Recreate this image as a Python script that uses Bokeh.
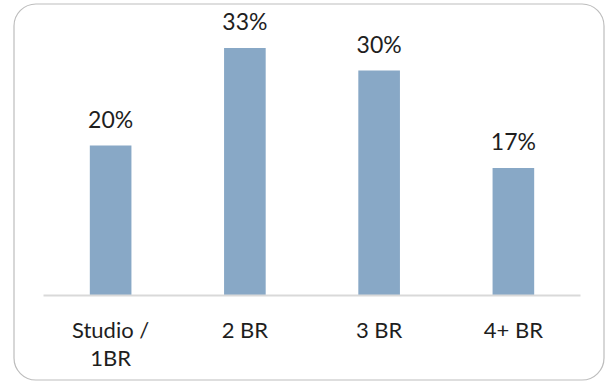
from bokeh.plotting import figure
from bokeh.models import (ColumnDataSource, Range1d, LinearAxis, FixedTicker,
                          LabelSet)
from bokeh.core.properties import value
from bokeh.embed import file_html
from bokeh.resources import INLINE

# Share of units by bedroom count
categories = ["Studio /\n1BR", "2 BR", "3 BR", "4+ BR"]
shares = [20, 33, 30, 17]
share_labels = [f"{v}%" for v in shares]

W, H = 606, 383
FONT = "Lato"
TEXT = "#1e1e1e"
BAR = "#88A8C6"

# Pixel geometry of the plotting area
axis_left, axis_right, axis_y = 43, 580, 295
cat_px = (axis_right - axis_left) / len(categories)
px_per_pct = 7.5

x0 = -axis_left / cat_px
x_range = Range1d(x0, x0 + W / cat_px)
y_range = Range1d(-(H - axis_y) / px_per_pct, axis_y / px_per_pct)

def px_x(px):
    return x0 + px / cat_px

def px_y(py):
    return (axis_y - py) / px_per_pct

centers = [i + 0.5 for i in range(len(categories))]
src = ColumnDataSource(dict(x=centers, top=shares, label=share_labels))

p = figure(width=W, height=H, x_range=x_range, y_range=y_range,
           x_axis_type=None, y_axis_type=None, toolbar_location=None,
           output_backend="svg", min_border=0)
p.outline_line_color = None
p.grid.visible = False
p.background_fill_color = "white"
p.border_fill_color = "white"

# Rounded frame around the chart
p.quad(left=[px_x(13.5)], right=[px_x(603.5)], top=[px_y(3.5)],
       bottom=[px_y(379.5)], fill_color=None, line_color="#bdbdbd",
       line_width=1.2, border_radius=22)

p.vbar(x="x", top="top", width=0.31, source=src, fill_color=BAR,
       line_color=None)

p.add_layout(LabelSet(x="x", y="top", text="label", source=src,
                      y_offset=18, text_align="center",
                      text_baseline="alphabetic", text_font=value(FONT),
                      text_font_size="23px", text_color=TEXT))

xaxis = LinearAxis(fixed_location=0, bounds=(0, len(categories)),
                   ticker=FixedTicker(ticks=centers),
                   major_label_overrides={c: n for c, n in zip(centers, categories)})
xaxis.axis_line_color = "#d9d9d9"
xaxis.axis_line_width = 2
xaxis.major_tick_line_color = None
xaxis.minor_tick_line_color = None
xaxis.major_label_standoff = 14
xaxis.major_label_text_font = FONT
xaxis.major_label_text_font_size = "22px"
xaxis.major_label_text_color = TEXT
xaxis.major_label_text_line_height = 1.05
p.add_layout(xaxis, "below")

open("out.html", "w").write(file_html(p, INLINE))
